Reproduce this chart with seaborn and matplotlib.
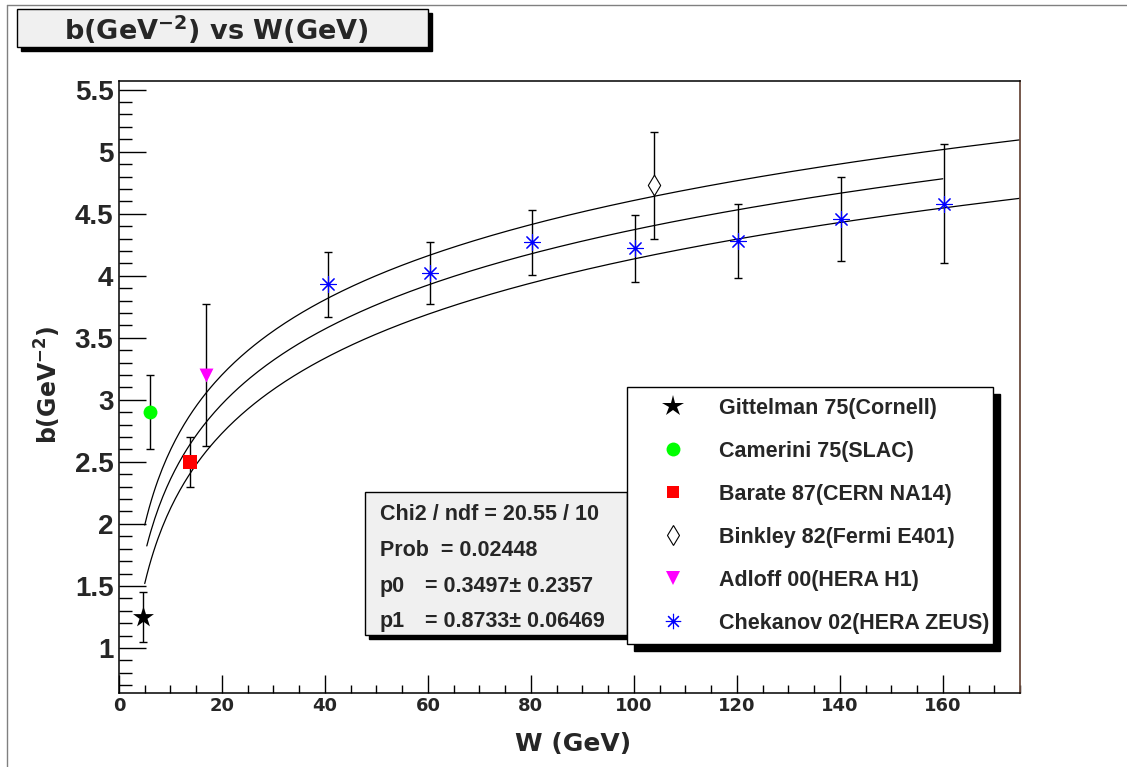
#!/usr/bin/env python3

import numpy as np
import matplotlib
matplotlib.use("Agg")
import matplotlib.pyplot as plt
from matplotlib.lines import Line2D
from matplotlib.patches import Rectangle
from matplotlib.ticker import MultipleLocator, FixedLocator
import seaborn as sns

# measurements: W (GeV), b (GeV^-2), error on b
gitt_w, gitt_b, gitt_e = [4.7], [1.25], [0.20]
cam_w, cam_b, cam_e = [6.0], [2.90], [0.30]
bar_w, bar_b, bar_e = [13.7], [2.50], [0.20]
bink_w, bink_b, bink_e = [104.0], [4.73], [0.43]
adl_w, adl_b, adl_e = [16.9], [3.20], [0.57]
chek_w = [40.5, 60.4, 80.3, 100.3, 120.2, 140.3, 160.2]
chek_b = [3.93, 4.02, 4.27, 4.22, 4.28, 4.46, 4.58]
chek_e = [0.26, 0.25, 0.26, 0.27, 0.30, 0.34, 0.48]

labels = ["Gittelman 75(Cornell)", "Camerini 75(SLAC)", "Barate 87(CERN NA14)",
          "Binkley 82(Fermi E401)", "Adloff 00(HERA H1)", "Chekanov 02(HERA ZEUS)"]

# fit b = p0 + p1*ln(W); outer curves shifted by the p0 error
p0, p0_err = 0.3497, 0.2357
p1, p1_err = 0.8733, 0.06469
chi2, ndf, prob = 20.55, 10, 0.02448
fit_range = (5.4, 160.0)
band_range = (5.0, 175.0)

W_PX, H_PX = 1127, 767


def fx(px):
    return px / W_PX


def fy(py):
    return 1 - py / H_PX


def main():
    sns.set_theme(style="white")
    plt.rcParams["font.family"] = ["Liberation Sans", "DejaVu Sans"]
    plt.rcParams["font.weight"] = "bold"
    plt.rcParams["mathtext.fontset"] = "custom"
    plt.rcParams["mathtext.rm"] = "DejaVu Sans:bold"
    plt.rcParams["mathtext.it"] = "DejaVu Sans:bold"
    plt.rcParams["mathtext.bf"] = "DejaVu Sans:bold"

    fig = plt.figure(figsize=(W_PX / 100, H_PX / 100), dpi=100)
    fig.patch.set_facecolor("white")
    ax = fig.add_axes([fx(119), fy(693), fx(1020) - fx(119), fy(81) - fy(693)])
    ax.set_facecolor("white")

    # fit curves
    w_fit = np.linspace(*fit_range, 400)
    w_band = np.linspace(*band_range, 400)
    for w, off in [(w_band, p0_err), (w_fit, 0.0), (w_band, -p0_err)]:
        sns.lineplot(x=w, y=p0 + off + p1 * np.log(w), ax=ax, color="black",
                     linewidth=0.9, estimator=None, sort=False, zorder=2.5)

    # error bars
    for w, b, e in [(gitt_w, gitt_b, gitt_e), (cam_w, cam_b, cam_e),
                    (bar_w, bar_b, bar_e), (bink_w, bink_b, bink_e),
                    (adl_w, adl_b, adl_e), (chek_w, chek_b, chek_e)]:
        ax.errorbar(w, b, yerr=e, fmt="none", ecolor="black", elinewidth=1,
                    capsize=3, capthick=1, zorder=2)

    # markers
    sns.scatterplot(x=gitt_w, y=gitt_b, ax=ax, marker="*", s=250, color="black",
                    linewidth=0, zorder=3)
    sns.scatterplot(x=cam_w, y=cam_b, ax=ax, marker="o", s=100, color="#00ff00",
                    linewidth=0, zorder=3)
    sns.scatterplot(x=bar_w, y=bar_b, ax=ax, marker="s", s=90, color="#ff0000",
                    linewidth=0, zorder=3)
    sns.scatterplot(x=bink_w, y=bink_b, ax=ax, marker="d", s=110, color="white",
                    edgecolor="black", linewidth=0.8, zorder=3)
    sns.scatterplot(x=adl_w, y=adl_b, ax=ax, marker="v", s=100, color="#ff00ff",
                    linewidth=0, zorder=3)
    sns.scatterplot(x=chek_w, y=chek_b, ax=ax, marker=(8, 2, 0), s=130,
                    color="#0000ff", edgecolor="#0000ff", linewidth=0.8, zorder=3)

    # axes
    ax.set_xlim(0, 175)
    ax.set_ylim(0.637, 5.57)
    ax.set_xlabel("")
    ax.set_ylabel("")
    xt = list(range(0, 161, 20))
    ax.xaxis.set_major_locator(FixedLocator(xt))
    ax.set_xticklabels([str(v) for v in xt], fontfamily="DejaVu Sans",
                       fontweight="bold", fontsize=13)
    ax.xaxis.set_minor_locator(MultipleLocator(5))
    yt = [1, 1.5, 2, 2.5, 3, 3.5, 4, 4.5, 5, 5.5]
    ax.yaxis.set_major_locator(FixedLocator(yt))
    ax.set_yticklabels([f"{v:g}" for v in yt], fontsize=20, fontweight="bold")
    ax.yaxis.set_minor_locator(MultipleLocator(0.1))
    ax.tick_params(axis="y", which="major", direction="in", length=19.5, width=1,
                   pad=4, left=True, right=False, color="black")
    ax.tick_params(axis="y", which="minor", direction="in", length=9.5, width=1,
                   left=True, right=False, color="black")
    ax.tick_params(axis="x", which="major", direction="in", length=13, width=1,
                   pad=3, bottom=True, top=False, color="black")
    ax.tick_params(axis="x", which="minor", direction="in", length=6, width=1,
                   bottom=True, top=False, color="black")
    for side in ["left", "top", "bottom"]:
        ax.spines[side].set_color("black")
        ax.spines[side].set_linewidth(1.1)
    ax.spines["right"].set_color("#6b4b3e")
    ax.spines["right"].set_linewidth(1.3)

    fig.text(fx(573), fy(744), "W (GeV)", ha="center", va="center", fontsize=18,
             fontfamily="DejaVu Sans", fontweight="bold")
    fig.text(fx(48), fy(385), "b(GeV$^{-2}$)", rotation=90, ha="center",
             va="center", fontsize=17, fontfamily="DejaVu Sans", fontweight="bold")

    # canvas frame lines
    fig.add_artist(Line2D([fx(7), 1], [fy(5), fy(5)], transform=fig.transFigure,
                          color="#808080", linewidth=1))
    fig.add_artist(Line2D([fx(7), fx(7)], [fy(5), 0], transform=fig.transFigure,
                          color="#808080", linewidth=1))

    def box(x0, y0, x1, y1, shadow, face, z):
        fig.add_artist(Rectangle((fx(x0 + shadow), fy(y1 + shadow)),
                                 fx(x1) - fx(x0), fy(y0) - fy(y1),
                                 transform=fig.transFigure, facecolor="black",
                                 edgecolor="black", zorder=z))
        fig.add_artist(Rectangle((fx(x0), fy(y1)), fx(x1) - fx(x0), fy(y0) - fy(y1),
                                 transform=fig.transFigure, facecolor=face,
                                 edgecolor="black", linewidth=1, zorder=z + 0.1))

    # title box
    box(17, 9, 428, 47, 4, "#f0f0f0", 3)
    fig.text(fx(216), fy(40), "b(GeV$^{-2}$) vs W(GeV)", ha="center",
             va="baseline", fontsize=19.5, fontfamily="DejaVu Sans",
             fontweight="bold", zorder=4)

    # fit statistics box
    box(365, 492, 627, 635, 4, "#f0f0f0", 3)
    st = dict(fontsize=15.5, fontweight="bold", va="baseline", zorder=4)
    fig.text(fx(380), fy(520), f"Chi2 / ndf = {chi2:.2f} / {ndf}", **st)
    fig.text(fx(380), fy(556), f"Prob  = {prob:.5f}", **st)
    fig.text(fx(380), fy(592), "p0", **st)
    fig.text(fx(425), fy(592), f"= {p0:.4f}\u00b1 {p0_err:.4f}", **st)
    fig.text(fx(380), fy(627), "p1", **st)
    fig.text(fx(425), fy(627), f"= {p1:.4f}\u00b1 {p1_err:.5f}", **st)

    # legend
    handles = [
        Line2D([], [], marker="*", linestyle="none", markersize=16, color="black",
               markeredgewidth=0),
        Line2D([], [], marker="o", linestyle="none", markersize=10, color="#00ff00",
               markeredgewidth=0),
        Line2D([], [], marker="s", linestyle="none", markersize=9, color="#ff0000",
               markeredgewidth=0),
        Line2D([], [], marker="d", linestyle="none", markersize=10.5,
               markerfacecolor="white", markeredgecolor="black",
               markeredgewidth=0.8),
        Line2D([], [], marker="v", linestyle="none", markersize=10, color="#ff00ff",
               markeredgewidth=0),
        Line2D([], [], marker=(8, 2, 0), linestyle="none", markersize=11,
               color="#0000ff", markeredgewidth=0.8),
    ]
    leg = fig.legend(handles, labels, loc="upper left",
                     bbox_to_anchor=(fx(627), 0, fx(993) - fx(627), fy(387)),
                     bbox_transform=fig.transFigure, mode="expand",
                     borderaxespad=0, borderpad=0.5, handlelength=3.3,
                     handletextpad=0.47, labelspacing=1.02, numpoints=1,
                     frameon=True, fancybox=False, edgecolor="black",
                     framealpha=1, prop={"size": 15.5, "weight": "bold"})
    leg.get_frame().set_linewidth(1)
    leg.set_zorder(10)

    fig.canvas.draw()
    bb = leg.get_frame().get_window_extent(fig.canvas.get_renderer())
    fig.add_artist(Rectangle((bb.x0 + 7, bb.y0 - 7), bb.width, bb.height,
                             transform=None, facecolor="black", edgecolor="black",
                             zorder=9))

    fig.savefig("out.png", dpi=100)
    plt.close(fig)


if __name__ == "__main__":
    main()
